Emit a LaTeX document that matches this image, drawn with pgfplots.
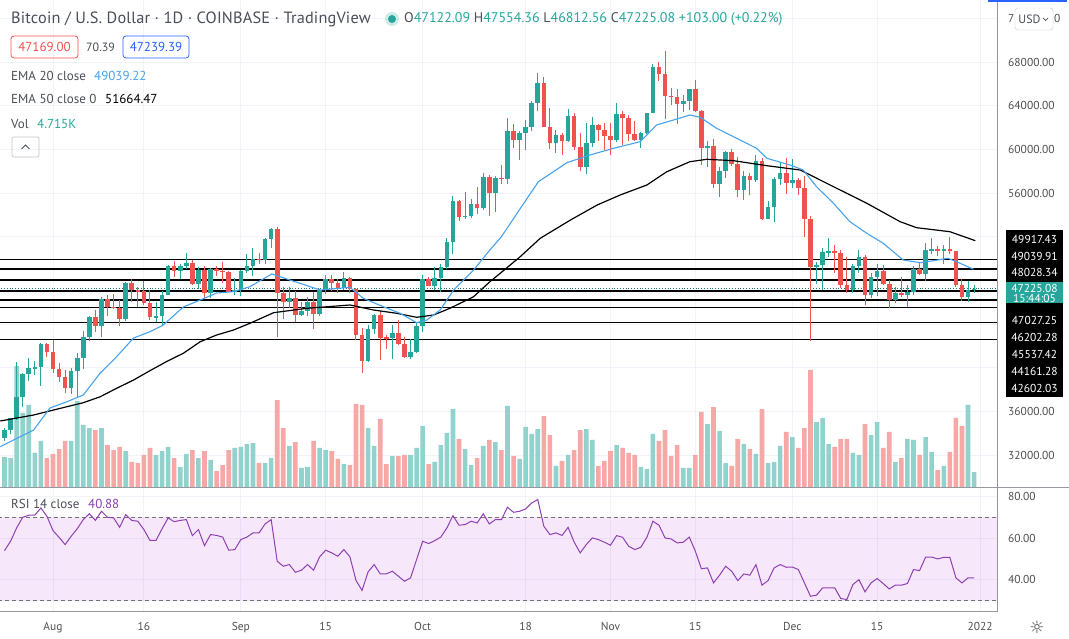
\documentclass[border=0pt]{standalone}
\usepackage{pgfplots}
\pgfplotsset{compat=1.18}
\usepackage{pgfplotstable}
\usepackage{fontspec}
\setmainfont{PT Sans}
\newfontfamily\titlefont{PT Sans}[LetterSpace=1.1]
\newfontfamily\symfont{DejaVu Sans}

\definecolor{upc}{RGB}{38,166,154}
\definecolor{dnc}{RGB}{239,83,80}
\definecolor{upv}{RGB}{146,210,204}
\definecolor{dnv}{RGB}{246,168,166}
\definecolor{emablue}{RGB}{72,163,238}
\definecolor{rsic}{RGB}{142,64,178}
\definecolor{gridc}{RGB}{240,243,250}
\definecolor{tvtext}{RGB}{75,78,88}
\definecolor{tvgrey}{RGB}{80,80,84}
\definecolor{sepc}{RGB}{150,152,160}
\definecolor{btnblue}{RGB}{41,98,255}

% day index: 0 = 1 Aug 2021 ; o h l c in USD ; v in thousand BTC
\pgfplotstableread{
d o h l c v
-8 33600 34500 33300 34270 9.4
-7 34270 35400 33900 35350 9.1
-6 35350 40550 35200 37280 38.0
-5 37280 39550 36400 39450 23.3
-4 39450 40900 38800 39950 25.8
-3 39950 40600 39300 40030 10.7
-2 40030 42300 38350 42200 14.5
-1 42200 42300 41000 41450 9.1
0 41450 42500 39500 39850 10.4
1 39850 40440 38700 39150 11.9
2 39150 39780 37700 38180 14.5
3 38180 39950 37600 39730 14.5
4 39730 41370 37330 40870 27.0
5 40870 43380 39850 42830 19.5
6 42830 44700 42450 44620 18.5
7 44620 45300 43300 43800 17.9
8 43800 46450 42800 46260 18.5
9 46260 46700 44700 45580 13.2
10 45580 46740 45350 45450 11.6
11 45450 46200 43800 44420 12.6
12 44420 47880 44250 47800 11.3
13 47800 48150 45970 47080 7.9
14 47080 47380 45550 46990 7.5
15 46990 47900 45750 45900 10.1
16 45900 47140 44400 44650 12.3
17 44650 46000 44200 44700 10.1
18 44700 47000 43950 46700 11.3
19 46700 49380 46650 49320 12.6
20 49320 49780 48300 48900 9.1
21 48900 49500 48100 49300 6.3
22 49300 50500 49050 49550 10.4
23 49550 49900 47600 47700 11.6
24 47700 49250 47200 48980 9.1
25 48980 49300 46350 46850 11.3
26 46850 49150 46400 49080 8.5
27 49080 49300 48400 48900 5.0
28 48900 49650 47800 48800 6.9
29 48800 48900 46900 46950 11.6
30 46950 48250 46700 47150 12.3
31 47150 48950 46570 48850 12.6
32 48850 50400 48650 49300 13.5
33 49300 51000 48400 49950 13.8
34 49950 50550 49500 49900 7.5
35 49900 51900 49500 51780 7.5
36 51780 52800 50950 52700 9.1
37 52700 52920 42850 46850 27.3
38 46850 47350 44430 46050 18.5
39 46050 47400 45500 46400 12.9
40 46400 47050 44200 44850 14.1
41 44850 45990 44750 45150 6.0
42 45150 46450 44750 46050 6.3
43 46050 46900 43500 44950 14.5
44 44950 47250 44700 47100 12.3
45 47100 48470 46750 48100 11.6
46 48100 48500 47050 47730 11.3
47 47730 48150 46800 47270 8.8
48 47270 48800 47070 48240 7.2
49 48240 48350 46880 47200 6.9
50 47200 47330 42550 42950 26.1
51 42950 43600 39550 40600 25.8
52 40600 43950 40550 43550 18.5
53 43550 44950 43100 44850 12.9
54 44850 45150 40700 42750 21.4
55 42750 42950 41700 42700 7.2
56 42700 43900 40800 43180 9.7
57 43180 44350 42100 42150 9.7
58 42150 42780 40900 40950 10.1
59 40950 42600 40800 41480 10.1
60 41480 44100 41380 43820 12.3
61 43820 48500 43300 48100 19.2
62 48100 48350 47450 47480 7.2
63 47480 49250 47150 48250 7.9
64 48250 49500 46950 49250 13.2
65 49250 51880 49050 51470 17.0
66 51470 55750 50400 55300 24.5
67 55300 55330 53400 53800 15.1
68 53800 56100 53650 53930 11.9
69 53930 55450 53700 54970 6.9
70 54970 56550 54100 54660 9.1
71 54660 57800 54450 57480 12.9
72 57480 57680 53900 56000 14.8
73 56000 57550 54300 57370 14.1
74 57370 58550 56850 57300 11.6
75 57300 62900 56850 61700 25.5
76 61700 62300 60150 60860 9.7
77 60860 61700 59000 61480 8.8
78 61480 62650 59950 62020 18.9
79 62020 64450 61650 64270 16.7
80 64270 67000 63500 66050 18.2
81 66050 66650 62000 62070 22.3
82 62070 63750 60000 60620 16.3
83 60620 61750 59650 61300 6.6
84 61300 61500 59500 60800 8.2
85 60800 63700 60700 63050 10.1
86 63050 63300 59900 60250 11.6
87 60250 61500 58050 58350 17.9
88 58350 62400 57700 60550 18.2
89 60550 62950 60200 62230 14.8
90 62230 62350 60800 61780 6.6
91 61780 62400 59950 61250 8.2
92 61250 62450 59500 60860 11.3
93 60860 64250 60700 63240 13.2
94 63240 63550 60400 62840 12.3
95 62840 63100 60750 61380 10.7
96 61380 62600 60800 60860 10.1
97 60860 61550 60100 61470 6.3
98 61470 63300 61400 63300 5.7
99 63300 67780 63300 67570 16.7
100 67570 68000 66300 66900 14.5
101 66900 69000 62800 64880 17.9
102 64880 65600 64100 64820 9.7
103 64820 65500 62300 64130 13.2
104 64130 64950 63400 64400 6.0
105 64400 65550 63600 65500 6.0
106 65500 66350 63400 63540 10.1
107 63540 63600 58600 60100 23.6
108 60100 60800 58400 60300 19.8
109 60300 60950 56500 56800 25.1
110 56800 58350 55600 58050 17.6
111 58050 59850 57400 59780 7.5
112 59780 60000 58500 58700 6.6
113 58700 59300 55650 56300 15.1
114 56300 58000 55350 57550 13.5
115 57550 57850 55850 57180 11.9
116 57180 59450 57000 58950 10.4
117 58950 59200 53550 53650 24.5
118 53650 55300 53650 54750 7.5
119 54750 57430 53300 57270 7.9
120 57270 58850 56700 57800 12.9
121 57800 59250 55900 56950 17.3
122 56950 59100 56500 57200 15.7
123 57200 57400 55850 56500 12.3
124 56500 57600 52000 53600 18.5
125 53600 53900 42400 49200 36.8
126 49200 49700 47700 49400 20.4
127 49400 51000 47150 50600 21.7
128 50600 51900 50100 50650 13.5
129 50650 51200 48650 50500 12.6
130 50500 50800 47300 47550 15.1
131 47550 50100 46850 47150 15.1
132 47150 49500 46850 49350 10.7
133 49350 50800 48650 50100 10.1
134 50100 50300 45700 46700 19.8
135 46700 48650 46350 48350 16.3
136 48350 49500 46600 48900 20.4
137 48900 49450 47550 47650 12.3
138 47650 48000 45500 46200 17.3
139 46200 47350 45950 46850 7.9
140 46850 48300 46450 46700 9.1
141 46700 47550 45550 46900 15.1
142 46900 49300 46650 49000 14.8
143 49000 49600 48450 48600 10.1
144 48600 51400 47900 50800 15.7
145 50800 51850 50400 50850 11.0
146 50850 51150 50200 50780 5.3
147 50780 51250 49500 50850 6.6
148 50850 52000 50450 50700 11.0
149 50700 50700 47350 47550 21.7
150 47550 48100 46100 46450 19.2
151 46450 47900 46000 47120 25.8
152 47122 47554 46812 47225 4.7
}\btc

\pgfplotsset{
  tvbase/.style={scale only axis, width=997pt, xmin=-8.746, xmax=155.78,
    axis line style={draw=none}, major tick length=0pt, clip=true,
    ticklabel style={font=\fontsize{11.5}{12}\selectfont, text=tvgrey},
    yticklabel pos=right, yticklabel style={anchor=west, inner sep=0pt, xshift=11pt},
    grid style={gridc, line width=0.8pt}},
  price/.style={tvbase, at={(0pt,151pt)}, anchor=south west, height=487pt,
    ymin=29070, ymax=73679},
  wick/.style={draw=none, mark=none, forget plot, error bars/.cd, y dir=both, y explicit,
    error mark=none, error bar style={line width=1pt, draw=#1}},
  body/.style={draw=none, mark=none, forget plot, error bars/.cd, y dir=both, y explicit,
    error mark=none, error bar style={line width=4.6pt, draw=#1}},
  hline/.style={black, line width=1.3pt, forget plot},
}

\begin{document}
\begin{tikzpicture}
\fill[white] (0,0) rectangle (1069pt,638pt);
\useasboundingbox (0,0) rectangle (1069pt,638pt);

% price grid and price scale (labels behind the level boxes left out)
\begin{axis}[price, xmajorgrids, ymajorgrids,
  xtick={0,15,31,45,61,78,92,106,122,136,153}, xticklabels={},
  ytick={32000,36000,40000,44000,48000,52000,56000,60000,64000,68000,72000},
  yticklabels={32000.00,36000.00,,,,,56000.00,60000.00,64000.00,68000.00,}]
\addplot[draw=none, forget plot] coordinates {(0,50000)};
\end{axis}

% volume
\begin{axis}[tvbase, at={(0pt,151pt)}, anchor=south west, height=487pt,
  ymin=0, ymax=153.06, xtick=\empty, ytick=\empty]
\addplot[ybar, bar width=4.6pt, bar shift=0pt, fill=upv, draw=none]
  table[x=d, y expr={\thisrow{c}>=\thisrow{o} ? \thisrow{v} : nan}] {\btc};
\addplot[ybar, bar width=4.6pt, bar shift=0pt, fill=dnv, draw=none]
  table[x=d, y expr={\thisrow{c}<\thisrow{o} ? \thisrow{v} : nan}] {\btc};
\end{axis}

% candles, EMAs, levels
\begin{axis}[price, xtick=\empty, ytick=\empty]
\addplot[hline] coordinates {(-9,49917.43) (156,49917.43)};
\addplot[hline] coordinates {(-9,49039.91) (156,49039.91)};
\addplot[hline] coordinates {(-9,48028.34) (156,48028.34)};
\addplot[hline] coordinates {(-9,47027.25) (156,47027.25)};
\addplot[hline] coordinates {(-9,46202.28) (156,46202.28)};
\addplot[hline] coordinates {(-9,45537.42) (156,45537.42)};
\addplot[hline] coordinates {(-9,44161.28) (156,44161.28)};
\addplot[hline] coordinates {(-9,42602.03) (156,42602.03)};
\addplot[upc!70!black, line width=0.8pt, dotted, forget plot] coordinates {(-9,47225.08) (156,47225.08)};

\addplot[wick=upc] table[x=d, y expr={\thisrow{c}>=\thisrow{o} ? (\thisrow{h}+\thisrow{l})/2 : nan},
  y error expr={(\thisrow{h}-\thisrow{l})/2}] {\btc};
\addplot[wick=dnc] table[x=d, y expr={\thisrow{c}<\thisrow{o} ? (\thisrow{h}+\thisrow{l})/2 : nan},
  y error expr={(\thisrow{h}-\thisrow{l})/2}] {\btc};
\addplot[body=upc] table[x=d, y expr={\thisrow{c}>=\thisrow{o} ? (\thisrow{o}+\thisrow{c})/2 : nan},
  y error expr={max(abs(\thisrow{c}-\thisrow{o})/2,50)}] {\btc};
\addplot[body=dnc] table[x=d, y expr={\thisrow{c}<\thisrow{o} ? (\thisrow{o}+\thisrow{c})/2 : nan},
  y error expr={max(abs(\thisrow{c}-\thisrow{o})/2,50)}] {\btc};

% EMA 50
\addplot[black, line width=1.2pt] coordinates {(-8.7,35115) (-3.2,35665) (2.3,36425) (5,36791) (7.8,37341) (10.5,38111) (13.3,38871) (16,39723) (18.7,40548) (21.5,41317) (24.3,42379) (27,42993) (29.8,43451) (32.5,44065) (36.4,45036) (41.9,45439) (49,45741) (52.9,45283) (56.7,44981) (60,44614) (62.8,44825) (65.5,45439) (69.4,46501) (72.1,47875) (73.8,48645) (77.1,50165) (80.4,51851) (85.4,53527) (89.8,54901) (93.6,55817) (98,56733) (101.3,57952) (105.1,58867) (107.9,59087) (112.3,58959) (117.8,58501) (123.3,58107) (128.8,56578) (134.3,55057) (139.8,53371) (142.5,52822) (148,52456) (152.2,51631)};
% EMA 20
\addplot[emablue, line width=1.1pt] coordinates {(-8.7,32761) (-3.2,34291) (-0.5,36306) (2.3,36883) (5,37500) (7.8,39512) (10.5,41006) (13.3,42718) (16,43296) (18.2,43909) (21.5,45558) (24.3,46199) (27,46840) (29.8,46960) (32.5,47418) (36.1,48581) (39.1,48031) (44.1,47115) (49,47363) (51.2,46355) (54.5,45586) (57.3,44981) (60,44120) (61.7,44367) (63.9,45283) (66.1,47115) (69.4,48947) (72.1,50779) (74,51997) (77.5,54901) (80.1,57035) (84.8,58776) (88.6,59481) (92.5,60095) (96.9,60700) (99.6,62229) (102.4,62687) (105.1,63145) (106.8,62935) (109.5,61927) (112.3,61158) (116.1,60095) (117.8,59179) (121.6,58565) (123.8,58107) (126,56578) (128.8,55057) (131.5,53371) (134.3,52309) (137,51393) (140.3,49863) (143.1,49616) (145.3,49799) (147.7,50019) (149.1,49707) (151.9,49011)};
\end{axis}

% RSI pane
\begin{axis}[tvbase, at={(0pt,27pt)}, anchor=south west, height=123pt,
  ymin=25, ymax=84.07, xmajorgrids, ymajorgrids,
  xtick={0,15,31,45,61,78,92,106,122,136,153},
  xticklabels={Aug,16,Sep,15,Oct,18,Nov,15,Dec,15,2022},
  xticklabel style={anchor=north, inner sep=0pt, yshift=-11pt},
  ytick={40,60,80}, yticklabels={40.00,60.00,80.00}]
\addplot[fill={rgb,255:red,190;green,60;blue,230}, fill opacity=0.12, draw=none, forget plot]
  coordinates {(-9,30) (156,30) (156,70) (-9,70)} -- cycle;
\addplot[tvgrey!80, line width=0.8pt, dash pattern=on 4pt off 3pt, forget plot] coordinates {(-9,70) (156,70)};
\addplot[tvgrey!80, line width=0.8pt, dash pattern=on 4pt off 3pt, forget plot] coordinates {(-9,30) (156,30)};
\addplot[rsic, line width=1pt] coordinates {(-8,54.0) (-7,58.5) (-6,64.9) (-5,70.0) (-4,71.0) (-3,71.0) (-2,74.5) (-1,70.5) (0,63.6) (1,60.4) (2,56.9) (3,60.9) (4,64.5) (5,68.9) (6,71.7) (7,68.5) (8,72.9) (9,70.0) (10,69.7) (11,65.2) (12,71.3) (13,68.5) (14,68.1) (15,64.1) (16,58.9) (17,58.9) (18,64.5) (19,69.7) (20,67.9) (21,68.5) (22,68.9) (23,61.2) (24,64.1) (25,56.4) (26,61.7) (27,61.3) (28,60.5) (29,54.2) (30,54.5) (31,59.3) (32,60.5) (33,62.5) (34,62.5) (35,66.8) (36,68.9) (37,48.9) (38,46.5) (39,47.3) (40,43.6) (41,44.6) (42,47.3) (43,44.6) (44,51.0) (45,54.2) (46,52.9) (47,51.3) (48,54.5) (49,51.0) (50,39.7) (51,34.9) (52,43.8) (53,47.3) (54,42.8) (55,42.8) (56,44.1) (57,41.7) (58,39.3) (59,40.9) (60,49.7) (61,58.5) (62,57.4) (63,58.8) (64,60.5) (65,64.9) (66,70.8) (67,66.2) (68,66.5) (69,68.1) (70,67.3) (71,71.7) (72,66.8) (73,68.9) (74,68.9) (75,74.8) (76,72.4) (77,72.9) (78,74.0) (79,76.9) (80,78.5) (81,65.7) (82,61.7) (83,62.5) (84,61.3) (85,65.2) (86,58.1) (87,52.9) (88,56.9) (89,60.1) (90,59.3) (91,58.0) (92,56.6) (93,61.2) (94,60.4) (95,56.1) (96,54.5) (97,55.6) (98,60.4) (99,68.1) (100,66.2) (101,60.1) (102,59.6) (103,57.7) (104,58.0) (105,60.5) (106,53.7) (107,45.3) (108,45.7) (109,38.5) (110,42.2) (111,46.5) (112,44.1) (113,39.6) (114,42.8) (115,42.2) (116,47.3) (117,37.4) (118,39.6) (119,45.7) (120,47.3) (121,46.0) (122,46.1) (123,44.9) (124,38.5) (125,32.1) (126,32.6) (127,36.1) (128,36.1) (129,36.1) (130,31.0) (131,30.5) (132,37.7) (133,40.1) (134,34.2) (135,38.5) (136,40.6) (137,38.2) (138,35.6) (139,37.4) (140,37.4) (141,38.2) (142,44.9) (143,44.4) (144,50.9) (145,50.9) (146,50.0) (147,50.8) (148,50.8) (149,40.9) (150,38.5) (151,40.9) (152,40.88)};
\end{axis}

% frame, legend and price labels (pixel coordinates, y down)
\begin{scope}[x=1pt, y=-1pt, shift={(0pt,638pt)}]
\draw[sepc, line width=1pt] (997.5,0) -- (997.5,611);
\draw[sepc, line width=1.3pt] (0,487.5) -- (1069,487.5);
\draw[sepc, line width=1pt] (0,611) -- (997.5,611);
\fill[btnblue] (988,0) rectangle (1067,2);

\node[anchor=west, inner sep=0pt, text=tvtext, font=\titlefont\fontsize{16.3}{18}\selectfont] at (11,19)
  {Bitcoin / U.S. Dollar · 1D · COINBASE · TradingView};
\fill[upc!22] (392,19) circle (7pt);
\fill[upc] (392,19) circle (4pt);
\node[anchor=west, inner sep=0pt, text=tvtext, font=\fontsize{14}{16}\selectfont] at (404,19)
  {O\textcolor{upc}{47122.09} H\textcolor{upc}{47554.36} L\textcolor{upc}{46812.56} C\textcolor{upc}{47225.08} \textcolor{upc}{+103.00 (+0.22\%)}};

\draw[dnc, rounded corners=3pt, line width=0.8pt] (11,36) rectangle (78,58);
\node[text=dnc, font=\fontsize{13}{15}\selectfont] at (44.5,47) {47169.00};
\node[anchor=west, inner sep=0pt, text=tvtext, font=\fontsize{12}{14}\selectfont] at (86,47) {70.39};
\draw[btnblue, rounded corners=3pt, line width=0.8pt] (123,36) rectangle (189,58);
\node[text=btnblue, font=\fontsize{13}{15}\selectfont] at (156,47) {47239.39};

\node[anchor=west, inner sep=0pt, text=tvtext, font=\fontsize{13}{15}\selectfont] at (11,76) {EMA 20 close};
\node[anchor=west, inner sep=0pt, text=emablue, font=\fontsize{13}{15}\selectfont] at (94,76) {49039.22};
\node[anchor=west, inner sep=0pt, text=tvtext, font=\fontsize{13}{15}\selectfont] at (11,99) {EMA 50 close 0};
\node[anchor=west, inner sep=0pt, text=black, font=\fontsize{13}{15}\selectfont] at (105,99) {51664.47};
\node[anchor=west, inner sep=0pt, text=tvtext, font=\fontsize{13}{15}\selectfont] at (11,124) {Vol};
\node[anchor=west, inner sep=0pt, text=upc, font=\fontsize{13}{15}\selectfont] at (37,124) {4.715K};
\draw[gray!45, rounded corners=2pt, line width=0.7pt] (12,137) rectangle (39,157);
\draw[tvtext, line width=1pt] (21.5,149) -- (25.5,145) -- (29.5,149);

\node[anchor=west, inner sep=0pt, text=tvtext, font=\fontsize{13}{15}\selectfont] at (11,504) {RSI 14 close};
\node[anchor=west, inner sep=0pt, text=rsic, font=\fontsize{13}{15}\selectfont] at (88,504) {40.88};

% top price label, half hidden by the USD button
\node[anchor=west, inner sep=0pt, text=tvgrey, font=\fontsize{11.5}{12}\selectfont] at (1008,18.5) {7};
\node[anchor=west, inner sep=0pt, text=tvgrey, font=\fontsize{11.5}{12}\selectfont] at (1054,18.5) {0};
\draw[fill=white, draw=gray!40, rounded corners=3pt] (1015,8) rectangle (1053,30);
\node[text=tvtext, font=\fontsize{12}{14}\selectfont] at (1029.5,19) {USD};
\draw[tvtext, line width=0.7pt] (1043,18) -- (1045.5,20.5) -- (1048,18);

% price scale labels
\fill[black] (1006,230) rectangle (1063,282);
\fill[upc] (1006,282) rectangle (1063,303);
\fill[black] (1006,303) rectangle (1063,397);
\begin{scope}[every node/.style={text=white, font=\fontsize{11.5}{12}\selectfont, inner sep=0pt}]
\node at (1034.5,239.5) {49917.43};
\node at (1034.5,256) {49039.91};
\node at (1034.5,272.5) {48028.34};
\node at (1034.5,288.5) {47225.08};
\node at (1034.5,298.5) {15:44:05};
\node at (1034.5,320) {47027.25};
\node at (1034.5,337) {46202.28};
\node at (1034.5,354) {45537.42};
\node at (1034.5,371.5) {44161.28};
\node at (1034.5,388.5) {42602.03};
\end{scope}

\node[text=tvgrey, font=\symfont\fontsize{17}{18}\selectfont] at (1037,627) {☼};
\end{scope}
\end{tikzpicture}
\end{document}
